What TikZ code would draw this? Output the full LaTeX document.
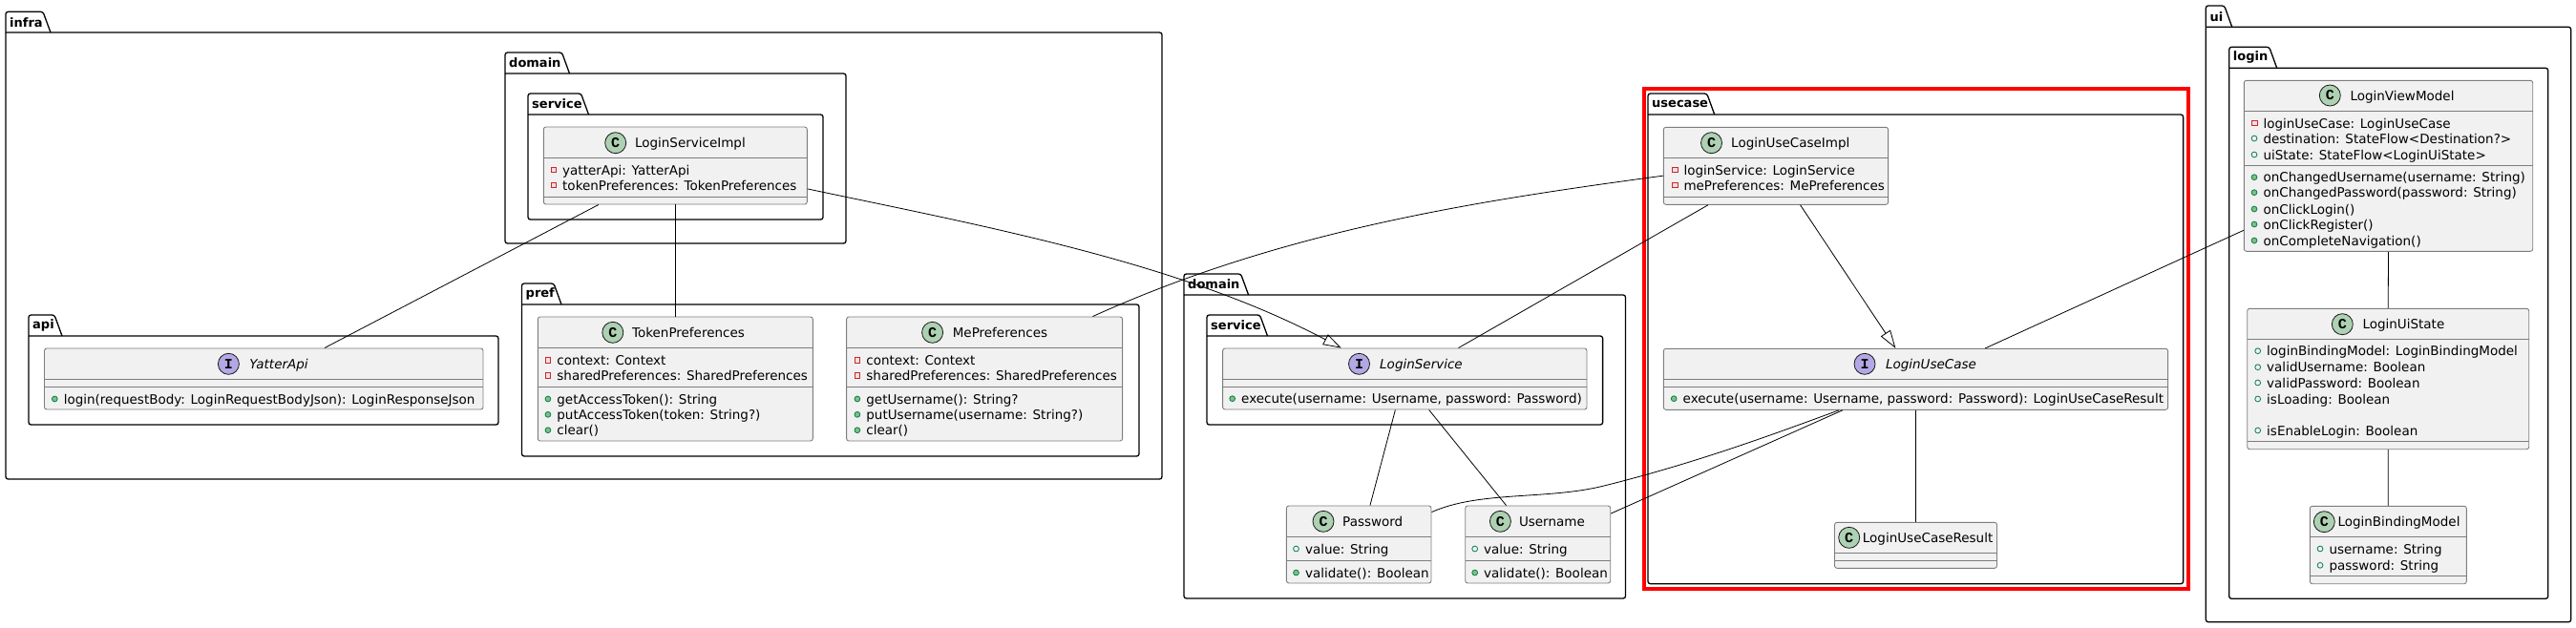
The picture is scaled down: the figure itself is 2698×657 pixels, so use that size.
\documentclass[tikz,border=0pt]{standalone}
\usepackage{fontspec}
\usepackage{xcolor}
\usetikzlibrary{arrows.meta}
\setmainfont{DejaVu Sans}
\newfontfamily\spotfont{Liberation Mono}
\definecolor{boxfill}{RGB}{241,241,241}
\definecolor{boxline}{RGB}{125,125,125}
\definecolor{linkline}{RGB}{24,24,24}
\definecolor{classspotfill}{RGB}{173,209,178}
\definecolor{ifacespotfill}{RGB}{180,167,229}
\definecolor{privred}{RGB}{200,41,48}
\definecolor{privfill}{RGB}{246,222,222}
\definecolor{pubgreen}{RGB}{3,128,72}
\definecolor{pubfill}{RGB}{132,190,132}
\newcommand{\pkgbox}[8]{%
  \draw[pkgline] (#3,#6) -- (#3,#4) -- ({#5-8},#4) -- (#5,#6);
  \draw[pkgline] (#3,#6) -- (#7,#6) -- (#7,#8) -- (#3,#8) -- (#3,#6);
  \node[pkgname] (#1) at ({#3+4},{(#4+#6)/2}) {#2};}
\newcommand{\classbox}[7]{%
  \node[classshape, minimum width={#4-#2}, minimum height={#5-#3}] (#1) at ({(#2+#4)/2},{(#3+#5)/2}) {};
  \draw[divider] (#2,#6) -- (#4,#6);
  \draw[divider] (#2,#7) -- (#4,#7);}

\begin{document}
\begin{tikzpicture}[
  x=1pt, y=-1pt,
  label distance=6pt,
  pkgline/.style={draw=black, line width=1.3pt, rounded corners=2.5pt},
  pkgname/.style={anchor=west, inner sep=0pt, font=\fontsize{13}{15}\selectfont\bfseries},
  classshape/.style={draw=boxline, fill=boxfill, line width=0.9pt, rounded corners=2.5pt, inner sep=0pt},
  divider/.style={draw=boxline, line width=0.9pt},
  classspot/.style={circle, draw=linkline, fill=classspotfill, line width=0.8pt, minimum size=22pt, inner sep=0pt, font=\spotfont\fontsize{15}{15}\selectfont\bfseries},
  ifacespot/.style={classspot, fill=ifacespotfill},
  rowtext/.style={anchor=west, inner sep=0pt, text height=12pt, text depth=2pt, font=\fontsize{13.5}{15}\selectfont},
  titletext/.style={rowtext},
  ifacetext/.style={rowtext, font=\fontsize{13.5}{15}\selectfont\itshape},
  privicon/.style={rectangle, draw=privred, fill=privfill, line width=0.8pt, minimum size=5.6pt, inner sep=0pt},
  fieldicon/.style={circle, draw=pubgreen, fill=boxfill, line width=0.8pt, minimum size=5.8pt, inner sep=0pt},
  methodicon/.style={circle, draw=pubgreen, fill=pubfill, line width=0.8pt, minimum size=5.8pt, inner sep=0pt},
  privrow/.style={rowtext, label={[privicon]left:{}}},
  fieldrow/.style={rowtext, label={[fieldicon]left:{}}},
  methodrow/.style={rowtext, label={[methodicon]left:{}}},
  link/.style={draw=black, line width=0.8pt},
  realize/.style={link, -{Triangle[open, length=19pt, width=12pt]}}
]
\useasboundingbox (0,0) rectangle (2698,657);

% ===== packages =====
\pkgbox{infra}{infra}{6}{12.3}{53}{34}{1217}{502}
\pkgbox{infradomain}{domain}{529}{55}{596.5}{77}{886}{255}
\pkgbox{infraservice}{service}{553}{98}{616.5}{120}{862}{230}
\pkgbox{api}{api}{30}{330}{65}{352}{522}{445}
\pkgbox{pref}{pref}{546.5}{297}{588}{319}{1193}{478}
\pkgbox{domain}{domain}{1240}{287}{1307.6}{309}{1702.5}{627}
\pkgbox{service}{service}{1264}{330}{1327.5}{352}{1678.6}{445}
\pkgbox{usecase}{usecase}{1726}{98}{1795.7}{120}{2286.6}{611.7}
\pkgbox{ui}{ui}{2310.3}{6}{2337.7}{28.3}{2692.7}{651.7}
\pkgbox{login}{login}{2334.7}{49.3}{2384.7}{71.3}{2668.7}{627.3}

% red frame
\draw[draw=red, line width=4pt] (1721.5,93) rectangle (2292,616.7);

% ===== classes in infra =====
\classbox{loginserviceimpl}{569.3}{133}{845.3}{214}{165}{206}
\node[classspot] (lsispot) at (644.7,149.7) {C};
\node[titletext] (lsititle) at (664.8,149.7) {LoginServiceImpl};
\node[privrow] (lsirowa) at (589,178) {yatterApi: YatterApi};
\node[privrow] (lsirowb) at (589,194) {tokenPreferences: TokenPreferences};

\classbox{yatterapi}{46.5}{365}{506}{429}{397}{405}
\node[ifacespot] (yaspot) at (239.4,381.3) {I};
\node[ifacetext] (yatitle) at (261.2,381.3) {YatterApi};
\node[methodrow] (yarowa) at (66.6,418) {login(requestBody: LoginRequestBodyJson): LoginResponseJson};

\classbox{tokenpreferences}{563.3}{332}{851.3}{462}{364}{405}
\node[classspot] (tpspot) at (641.8,348.3) {C};
\node[titletext] (tptitle) at (661.9,348.3) {TokenPreferences};
\node[privrow] (tprowa) at (583.2,377.3) {context: Context};
\node[privrow] (tprowb) at (583.2,393.3) {sharedPreferences: SharedPreferences};
\node[methodrow] (tprowc) at (583.2,418) {getAccessToken(): String};
\node[methodrow] (tprowd) at (583.2,434.3) {putAccessToken(token: String?)};
\node[methodrow] (tprowe) at (583.2,450.7) {clear()};

\classbox{mepreferences}{886.6}{332}{1175.6}{462}{364}{405}
\node[classspot] (mpspot) at (976.6,348.3) {C};
\node[titletext] (mptitle) at (997.6,348.3) {MePreferences};
\node[privrow] (mprowa) at (907.2,377.3) {context: Context};
\node[privrow] (mprowb) at (907.2,393.3) {sharedPreferences: SharedPreferences};
\node[methodrow] (mprowc) at (907.2,418) {getUsername(): String?};
\node[methodrow] (mprowd) at (907.2,434.3) {putUsername(username: String?)};
\node[methodrow] (mprowe) at (907.2,450.7) {clear()};

% ===== classes in domain =====
\classbox{loginservice}{1280.6}{365}{1662}{429}{397}{405}
\node[ifacespot] (lsspot) at (1423.5,381.3) {I};
\node[ifacetext] (lstitle) at (1445,381.3) {LoginService};
\node[methodrow] (lsrowa) at (1300,417.7) {execute(username: Username, password: Password)};

\classbox{password}{1347.4}{530}{1499}{611}{562}{587}
\node[classspot] (pwspot) at (1386,546.3) {C};
\node[titletext] (pwtitle) at (1406,546.3) {Password};
\node[fieldrow] (pwrowa) at (1366.8,575) {value: String};
\node[methodrow] (pwrowb) at (1366.8,600) {validate(): Boolean};

\classbox{username}{1534.7}{530}{1686.7}{611}{562}{587}
\node[classspot] (unspot) at (1571.4,546.3) {C};
\node[titletext] (untitle) at (1590.8,546.3) {Username};
\node[fieldrow] (unrowa) at (1554,575) {value: String};
\node[methodrow] (unrowb) at (1554,600) {validate(): Boolean};

% ===== classes in usecase =====
\classbox{loginusecaseimpl}{1742.3}{133.3}{1977.6}{214.3}{165.3}{206.3}
\node[classspot] (luispot) at (1792.5,149.7) {C};
\node[titletext] (luititle) at (1813,149.7) {LoginUseCaseImpl};
\node[privrow] (luirowa) at (1763.3,178) {loginService: LoginService};
\node[privrow] (luirowb) at (1763.3,194) {mePreferences: MePreferences};

\classbox{loginusecase}{1742.3}{365.3}{2270.6}{429.3}{397.3}{405.3}
\node[ifacespot] (lucspot) at (1953,381.3) {I};
\node[ifacetext] (luctitle) at (1974.8,381.3) {LoginUseCase};
\node[methodrow] (lucrowa) at (1762.5,417.7) {execute(username: Username, password: Password): LoginUseCaseResult};

\classbox{loginusecaseresult}{1921.5}{547.3}{2091.5}{595.3}{579.3}{587.3}
\node[classspot] (lurspot) at (1936.7,563.3) {C};
\node[titletext] (lurtitle) at (1950.7,563.3) {LoginUseCaseResult};

% ===== classes in ui =====
\classbox{loginviewmodel}{2350.3}{84.3}{2652.7}{263.3}{116.3}{173.7}
\node[classspot] (lvmspot) at (2440.3,100) {C};
\node[titletext] (lvmtitle) at (2461.3,100) {LoginViewModel};
\node[privrow] (lvmrowa) at (2370.3,129) {loginUseCase: LoginUseCase};
\node[fieldrow] (lvmrowb) at (2370.3,145) {destination: StateFlow<Destination?>};
\node[fieldrow] (lvmrowc) at (2370.3,162) {uiState: StateFlow<LoginUiState>};
\node[methodrow] (lvmrowd) at (2370.3,185.7) {onChangedUsername(username: String)};
\node[methodrow] (lvmrowe) at (2370.3,201.7) {onChangedPassword(password: String)};
\node[methodrow] (lvmrowf) at (2370.3,219) {onClickLogin()};
\node[methodrow] (lvmrowg) at (2370.3,235) {onClickRegister()};
\node[methodrow] (lvmrowh) at (2370.3,252) {onCompleteNavigation()};

\classbox{loginuistate}{2353.7}{323.3}{2648.7}{470.7}{355.3}{462.3}
\node[classspot] (lusspot) at (2453.3,339.7) {C};
\node[titletext] (lustitle) at (2474.3,339.7) {LoginUiState};
\node[fieldrow] (lusrowa) at (2374,367.7) {loginBindingModel: LoginBindingModel};
\node[fieldrow] (lusrowb) at (2374,384.7) {validUsername: Boolean};
\node[fieldrow] (lusrowc) at (2374,401) {validPassword: Boolean};
\node[fieldrow] (lusrowd) at (2374,418) {isLoading: Boolean};
\node[fieldrow] (lusrowe) at (2374,451) {isEnableLogin: Boolean};

\classbox{loginbindingmodel}{2419.3}{530.3}{2583.3}{611.7}{562.3}{603.7}
\node[classspot] (lbmspot) at (2434.3,546.7) {C};
\node[titletext] (lbmtitle) at (2448.3,546.7) {LoginBindingModel};
\node[fieldrow] (lbmrowa) at (2439.3,575) {username: String};
\node[fieldrow] (lbmrowb) at (2439.3,592.3) {password: String};

% ===== connectors =====
\draw[link] (loginserviceimpl.207.6) -- (yatterapi.27.8);
\draw[link] (loginserviceimpl.south) -- (tokenpreferences.north);
\draw[realize] (loginserviceimpl.350) .. controls (1036,238) and (1235,275) .. (loginservice.154);
\draw[link] (mepreferences.30.4) .. controls (1342,242) and (1542,211) .. (loginusecaseimpl.185.9);
\draw[link] (loginusecaseimpl.210.2) -- (loginservice.30.1);
\draw[realize] (loginusecaseimpl.302.9) -- (loginusecase.123.1);
\draw[link] (loginusecase.south) -- (loginusecaseresult.north);
\draw[link] (loginviewmodel.204.3) -- (loginusecase.24.6);
\draw[link] (loginusecase.203.4) -- (username.23.8);
\draw[link] (loginusecase.202.9) .. controls (1860,454) and (1780,484) .. (1680,509) .. controls (1620,524) and (1550,514) .. (password.24.3);
\draw[link] (loginservice.253.8) -- (password.74.1);
\draw[link] (loginservice.308.1) -- (username.129.3);
\draw[link] (loginviewmodel.south) -- (loginuistate.north);
\draw[link] (loginuistate.south) -- (loginbindingmodel.north);

\end{tikzpicture}
\end{document}
